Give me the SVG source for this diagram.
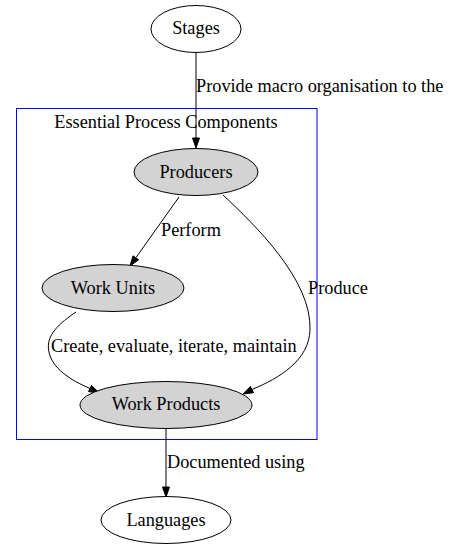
<svg xmlns="http://www.w3.org/2000/svg" width="449" height="551" viewBox="0 0 449 551">
<style>
text{font-family:"Liberation Serif","Times New Roman",serif;font-size:18.3px;fill:#000}
.c{text-anchor:middle}
.n{stroke:#000;stroke-width:1}
.g{fill:#d3d3d3}
.w{fill:#fff}
.e{fill:none;stroke:#000;stroke-width:1}
.h{fill:#000;stroke:#000;stroke-width:1}
</style>
<rect width="449" height="551" fill="#fff"/>
<g id="cluster">
<rect x="16.5" y="108.5" width="300.5" height="331" fill="none" stroke="#0000ff" stroke-width="1"/>
<text class="c" x="166" y="128">Essential Process Components</text>
</g>
<g id="connectors">
<path class="e" d="M196,52 L196,138"/>
<polygon class="h" points="192.5,138 196,148 199.5,138"/>
<text x="196" y="92">Provide macro organisation to the</text>
<path class="e" d="M179,197 L135.8,257.8"/>
<polygon class="h" points="138.6,259.8 130,266 133,255.8"/>
<text x="161" y="236">Perform</text>
<path class="e" d="M223,195 C255,225 312,280 310,330 C309,360 280,378 251.9,389.5"/>
<polygon class="h" points="253.5,392.7 243,394 250.4,386.4"/>
<text x="308" y="294">Produce</text>
<path class="e" d="M76,312 C60,323 45,335 49,352 C52,368 70,380 90.1,388.5"/>
<polygon class="h" points="88.5,391.6 99,393 91.6,385.4"/>
<text x="51" y="352">Create, evaluate, iterate, maintain</text>
<path class="e" d="M166,429 L166,487"/>
<polygon class="h" points="162.5,487 166,497 169.5,487"/>
<text x="167" y="468">Documented using</text>
</g>
<g id="stages">
<ellipse class="n w" cx="196" cy="29" rx="45" ry="23.5"/>
<text class="c" x="196" y="34">Stages</text>
</g>
<g id="producers">
<ellipse class="n g" cx="196" cy="172" rx="62" ry="23.5"/>
<text class="c" x="196" y="178">Producers</text>
</g>
<g id="work-units">
<ellipse class="n g" cx="113" cy="288" rx="71" ry="23.5"/>
<text class="c" x="113" y="294">Work Units</text>
</g>
<g id="work-products">
<ellipse class="n g" cx="166" cy="405" rx="86" ry="23.5"/>
<text class="c" x="166" y="410">Work Products</text>
</g>
<g id="languages">
<ellipse class="n w" cx="166" cy="520" rx="65" ry="23.5"/>
<text class="c" x="166" y="526">Languages</text>
</g>
</svg>
